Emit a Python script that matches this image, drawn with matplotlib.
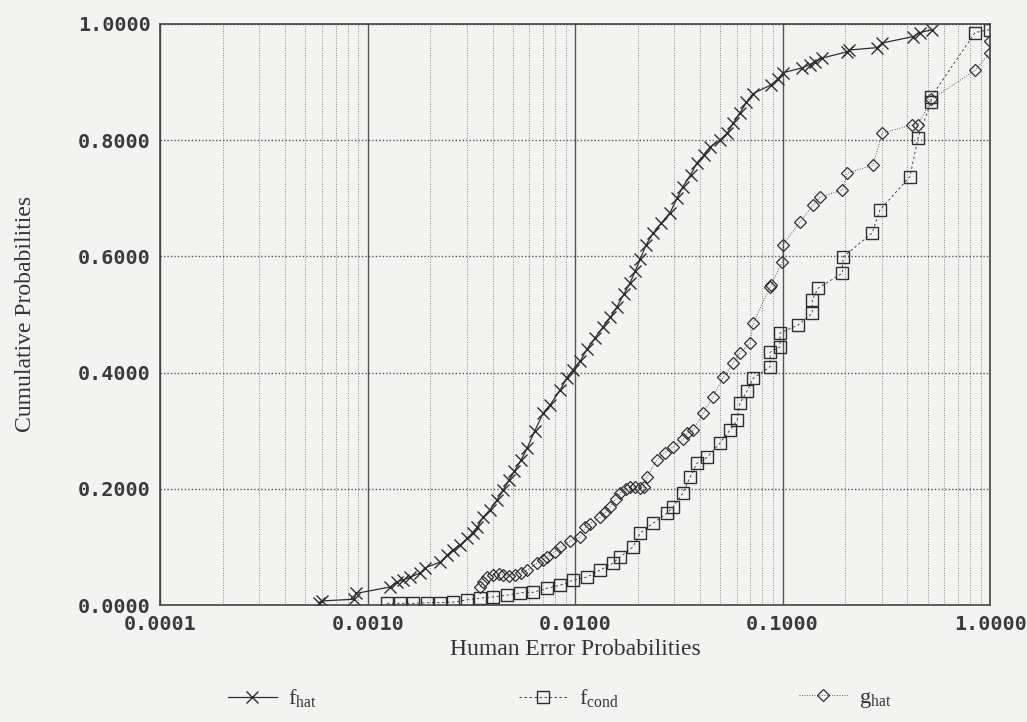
import matplotlib
matplotlib.use("Agg")
import matplotlib.pyplot as plt
from matplotlib.ticker import FixedLocator, LogLocator, FormatStrFormatter, NullFormatter

plt.rcParams["mathtext.fontset"] = "custom"
plt.rcParams["mathtext.rm"] = "Liberation Serif"

# empirical CDF of the estimates
fhat_x = [0.00058, 0.00060, 0.00086, 0.00088, 0.00128, 0.00139, 0.00148, 0.00160,
          0.00179, 0.00189, 0.00224, 0.00242, 0.00258, 0.00279, 0.00302, 0.00322,
          0.00337, 0.00360, 0.00389, 0.00421, 0.00450, 0.00480, 0.00510, 0.00550,
          0.00587, 0.00640, 0.00701, 0.00760, 0.00847, 0.00910, 0.00978, 0.0106,
          0.0114, 0.0125, 0.0136, 0.0148, 0.0159, 0.0172, 0.0184, 0.0195,
          0.0206, 0.0220, 0.0238, 0.0260, 0.0287, 0.0310, 0.0331, 0.0360,
          0.0387, 0.0420, 0.0447, 0.0500, 0.0541, 0.0580, 0.0624, 0.0670,
          0.0721, 0.0880, 0.0950, 0.1005, 0.124, 0.135, 0.1435, 0.155,
          0.205, 0.210, 0.285, 0.302, 0.426, 0.460, 0.525]
fhat_y = [0.004, 0.007, 0.010, 0.020, 0.031, 0.040, 0.043, 0.048,
          0.055, 0.064, 0.074, 0.086, 0.095, 0.103, 0.115, 0.124,
          0.134, 0.151, 0.164, 0.181, 0.198, 0.215, 0.230, 0.250,
          0.270, 0.300, 0.330, 0.345, 0.370, 0.390, 0.405, 0.420,
          0.440, 0.460, 0.478, 0.495, 0.513, 0.535, 0.554, 0.575,
          0.595, 0.620, 0.640, 0.657, 0.675, 0.700, 0.720, 0.740,
          0.761, 0.775, 0.788, 0.800, 0.812, 0.830, 0.847, 0.865,
          0.880, 0.895, 0.905, 0.916, 0.924, 0.930, 0.935, 0.941,
          0.952, 0.955, 0.959, 0.967, 0.978, 0.985, 0.990]

fcond_x = [0.00124, 0.00143, 0.00166, 0.00194, 0.00224, 0.00258, 0.00302, 0.00349,
           0.00403, 0.0047, 0.00543, 0.00628, 0.00733, 0.00847, 0.00978, 0.0114,
           0.0132, 0.0152, 0.0165, 0.0190, 0.0206, 0.0238, 0.0277, 0.0297,
           0.0331, 0.0358, 0.0387, 0.0432, 0.0500, 0.0558, 0.0604, 0.0624,
           0.0674, 0.0721, 0.0871, 0.0871, 0.0972, 0.0972, 0.119, 0.139,
           0.139, 0.148, 0.194, 0.196, 0.270, 0.295, 0.411, 0.450,
           0.520, 0.520, 0.847, 1.0]
fcond_y = [0.003, 0.003, 0.003, 0.004, 0.004, 0.005, 0.009, 0.012,
           0.014, 0.017, 0.021, 0.022, 0.029, 0.034, 0.043, 0.048,
           0.060, 0.072, 0.083, 0.100, 0.124, 0.141, 0.158, 0.169,
           0.193, 0.220, 0.244, 0.254, 0.279, 0.301, 0.318, 0.348,
           0.368, 0.390, 0.410, 0.435, 0.444, 0.468, 0.482, 0.502,
           0.525, 0.545, 0.571, 0.599, 0.640, 0.680, 0.737, 0.804,
           0.866, 0.874, 0.985, 0.990]

ghat_x = [0.00349, 0.00360, 0.00377, 0.00403, 0.00430, 0.00450, 0.00480, 0.00514,
          0.00550, 0.00587, 0.00656, 0.00700, 0.00733, 0.00800, 0.00847, 0.00946,
          0.01057, 0.0112, 0.0118, 0.0132, 0.0140, 0.01475, 0.0157, 0.0165,
          0.0175, 0.0184, 0.0195, 0.0206, 0.0215, 0.0222, 0.0248, 0.0270,
          0.0297, 0.0330, 0.0347, 0.0371, 0.0414, 0.0462, 0.0517, 0.0577,
          0.0624, 0.0697, 0.0721, 0.0871, 0.0880, 0.0995, 0.1005, 0.1214,
          0.140, 0.152, 0.194, 0.205, 0.273, 0.302, 0.421, 0.450,
          0.520, 0.847, 1.0, 1.0]
ghat_y = [0.031, 0.040, 0.048, 0.052, 0.054, 0.052, 0.050, 0.052,
          0.055, 0.060, 0.072, 0.078, 0.083, 0.092, 0.100, 0.110,
          0.117, 0.134, 0.140, 0.151, 0.160, 0.169, 0.183, 0.193,
          0.200, 0.203, 0.203, 0.201, 0.203, 0.220, 0.250, 0.262,
          0.272, 0.285, 0.296, 0.301, 0.330, 0.358, 0.392, 0.416,
          0.434, 0.451, 0.485, 0.547, 0.550, 0.590, 0.620, 0.659,
          0.688, 0.702, 0.714, 0.743, 0.757, 0.812, 0.826, 0.826,
          0.870, 0.920, 0.950, 0.970]

x_ticks = [0.0001, 0.001, 0.01, 0.1, 1.0]
y_ticks = [0.0, 0.2, 0.4, 0.6, 0.8, 1.0]

bg = "#f3f3f1"
ink = "#2e2e2e"

fig = plt.figure(figsize=(10.27, 7.22), dpi=100, facecolor=bg)
ax = fig.add_axes([0.156, 0.162, 0.808, 0.805], facecolor=bg)

h1, = ax.plot(fhat_x, fhat_y, color=ink, lw=0.9, ls="-", marker="x", ms=8, mew=1.0)
h2, = ax.plot(fcond_x, fcond_y, color=ink, lw=0.6, ls=(0, (3, 3)), marker="s", ms=8,
              mfc="none", mew=1.0)
h3, = ax.plot(ghat_x, ghat_y, color=ink, lw=0.6, ls=(0, (1, 2)), marker="D", ms=6.5,
              mfc="none", mew=0.9)

ax.set_xscale("log")
ax.set_xlim(0.0001, 1.0)
ax.set_ylim(0, 1.0)
ax.xaxis.set_major_locator(FixedLocator(x_ticks))
ax.xaxis.set_major_formatter(FormatStrFormatter("%.4f"))
ax.xaxis.set_minor_locator(LogLocator(base=10, subs=range(2, 10)))
ax.xaxis.set_minor_formatter(NullFormatter())
ax.yaxis.set_major_locator(FixedLocator(y_ticks))
ax.yaxis.set_major_formatter(FormatStrFormatter("%.4f"))

ax.grid(which="major", axis="x", color="#555555", lw=1.0, ls="-")
ax.grid(which="minor", axis="x", color="#8a8a8a", lw=0.7, ls=(0, (1, 1.5)))
ax.grid(which="major", axis="y", color="#555555", lw=1.0, ls=(0, (1, 1.5)))
ax.set_axisbelow(True)
for s in ax.spines.values():
    s.set_color("#444444")
    s.set_linewidth(1.2)

ax.tick_params(which="both", length=0, pad=7, colors="#333333")
for lab in ax.get_xticklabels() + ax.get_yticklabels():
    lab.set_fontfamily("DejaVu Sans Mono")
    lab.set_fontweight("bold")
    lab.set_fontsize(14.5)
    lab.set_color("#3a3a3a")

ax.set_xlabel("Human Error Probabilities", family="Liberation Serif", fontsize=17,
              color="#333333", labelpad=4)
ax.set_ylabel("Cumulative Probabilities", family="Liberation Serif", fontsize=17,
              color="#333333", labelpad=30)

# legend entries spread along the bottom edge
entries = [(h1, r"$\mathrm{f}_{\mathrm{hat}}$", 0.222),
           (h2, r"$\mathrm{f}_{\mathrm{cond}}$", 0.505),
           (h3, r"$\mathrm{g}_{\mathrm{hat}}$", 0.778)]
for h, lab, xpos in entries:
    fig.legend([h], [lab], loc="center left", bbox_to_anchor=(xpos, 0.032),
               frameon=False, borderpad=0, borderaxespad=0, handlelength=2.2,
               handletextpad=0.5, prop={"family": "Liberation Serif", "size": 16},
               labelcolor="#333333")

fig.savefig("out.png", dpi=100, facecolor=bg)
